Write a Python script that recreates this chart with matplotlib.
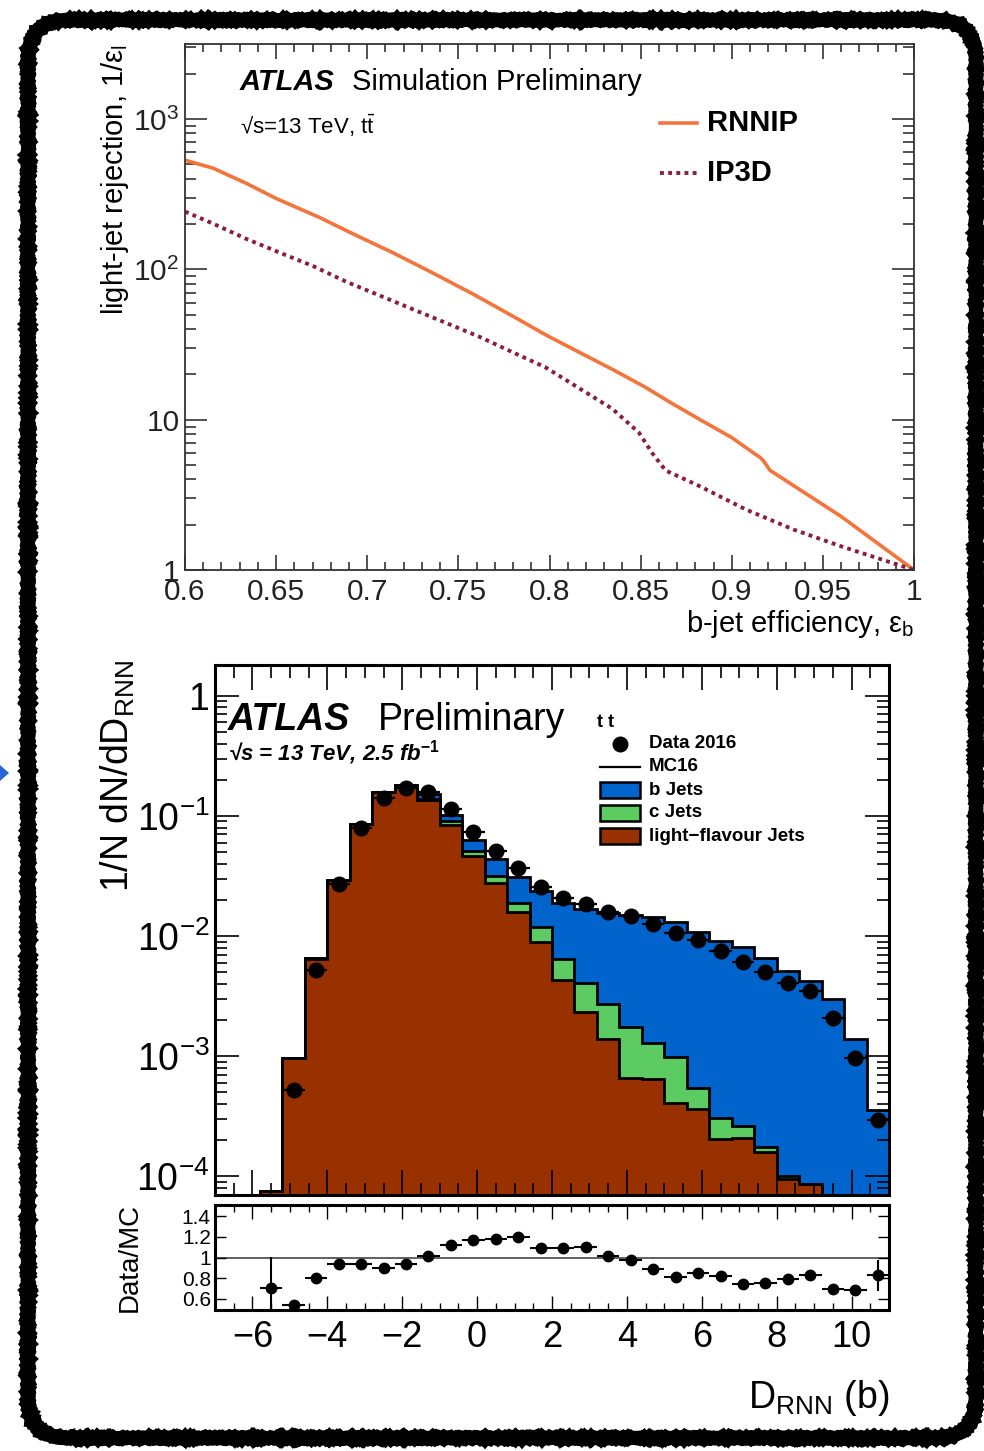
import numpy as np
import matplotlib
matplotlib.use("Agg")
import matplotlib.pyplot as plt
from matplotlib.ticker import MultipleLocator, FuncFormatter, NullFormatter, LogLocator, FixedLocator
from matplotlib.patches import FancyBboxPatch, Rectangle, Polygon
from matplotlib.lines import Line2D
from matplotlib.transforms import IdentityTransform

plt.rcParams['font.family'] = ['Liberation Sans', 'DejaVu Sans']
plt.rcParams['mathtext.fontset'] = 'custom'
plt.rcParams['mathtext.rm'] = 'Liberation Sans'
plt.rcParams['mathtext.it'] = 'Liberation Sans:italic'
plt.rcParams['mathtext.bf'] = 'Liberation Sans:bold'

# ---------------- top panel data: ROC curves ----------------
rnnip_eff = [0.600, 0.6155, 0.6338, 0.6502, 0.6739, 0.6922, 0.714, 0.736, 0.7578,
             0.7797, 0.798, 0.8162, 0.8345, 0.8527, 0.8673, 0.882, 0.900, 0.9158,
             0.9175, 0.921, 0.9598, 1.0]
rnnip_rej = [532, 470, 372, 295, 221, 172, 129, 94.5, 68.7,
             48.9, 36.6, 28.1, 21.6, 16.4, 12.8, 10.1, 7.6, 5.57,
             5.3, 4.6, 2.28, 1.0]
ip3d_eff = [0.600, 0.6155, 0.6338, 0.652, 0.6703, 0.6885, 0.7067, 0.725, 0.7432,
            0.7615, 0.7797, 0.798, 0.8162, 0.8345, 0.8491, 0.8564, 0.8637, 0.882,
            0.9079, 0.9338, 0.9598, 1.0]
ip3d_rej = [242, 201, 159, 129, 105, 82.6, 67, 54.2, 44,
            35.6, 28.1, 22.2, 16.2, 11.8, 8.19, 5.98, 4.59, 3.63,
            2.52, 1.86, 1.44, 1.0]

# ---------------- bottom panel data: D_RNN distribution ----------------
bin_edges = np.linspace(-7.0, 11.0, 31)
light_jets = [0, 0, 7.5e-5, 9.6e-4, 6.5e-3, 0.029, 0.085, 0.157, 0.178, 0.135,
              0.084, 0.0465, 0.0275, 0.016, 0.009, 0.00432, 0.00232, 0.00139, 0.00066, 0.00065,
              0.00041, 0.000367, 0.000205, 0.00021, 0.000161, 0.000096, 0.000086, 0, 0, 0]
c_jets = [0, 0, 0, 0, 1e-5, 5e-5, 0.0002, 0.0006, 0.0012, 0.003,
          0.007, 0.0042, 0.0043, 0.0029, 0.0028, 0.00217, 0.00178, 0.00133, 0.00108, 0.00064,
          0.00057, 0.000178, 0.000102, 0.000054, 0.000016, 0.000004, 0, 0, 0, 0]
b_jets = [0, 0, 0, 0, 1e-5, 5e-5, 0.0002, 0.0006, 0.0015, 0.014,
          0.011, 0.0123, 0.0117, 0.0121, 0.0118, 0.0125, 0.0126, 0.0127, 0.0133, 0.01304,
          0.01212, 0.01035, 0.00883, 0.00788, 0.00643, 0.00498, 0.0041, 0.00301, 0.0014, 0.00036]
data_2016 = [np.nan, np.nan, 5.4e-5, 5.24e-4, 5.22e-3, 0.0272, 0.080, 0.142, 0.17, 0.157,
             0.114, 0.0737, 0.0513, 0.037, 0.0258, 0.0207, 0.0183, 0.0157, 0.0147, 0.0127,
             0.0106, 0.0093, 0.0075, 0.00607, 0.00498, 0.00404, 0.00347, 0.00208, 9.65e-4, 2.96e-4]
ratio = [np.nan, np.nan, 0.704, 0.541, 0.80, 0.935, 0.94, 0.90, 0.94, 1.013,
         1.12, 1.17, 1.18, 1.195, 1.094, 1.088, 1.098, 1.016, 0.98, 0.886,
         0.811, 0.854, 0.821, 0.746, 0.753, 0.795, 0.828, 0.691, 0.688, 0.828]
ratio_err = [0, 0, 0.30, 0.03, 0.015, 0.01, 0.01, 0.01, 0.01, 0.01,
             0.01, 0.01, 0.01, 0.01, 0.01, 0.01, 0.01, 0.01, 0.01, 0.01,
             0.01, 0.01, 0.01, 0.01, 0.01, 0.012, 0.015, 0.02, 0.03, 0.15]

ORANGE = '#f5743c'
MAROON = '#8a1f3a'
BLUE = '#0064cc'
GREEN = '#5ccb62'
BROWN = '#993000'

fig = plt.figure(figsize=(9.84, 14.51), dpi=100)
W, H = 984.0, 1451.0

# ================= top panel =================
ax1 = fig.add_axes([185 / W, 1 - 570 / H, 729 / W, 526 / H])
ax1.plot(rnnip_eff, rnnip_rej, color=ORANGE, lw=2.6, solid_capstyle='butt')
ax1.plot(ip3d_eff, ip3d_rej, color=MAROON, lw=2.8, linestyle=(0, (1.0, 1.1)))
ax1.set_yscale('log')
ax1.set_xlim(0.6, 1.0)
ax1.set_ylim(1, 3150)
ax1.xaxis.set_major_locator(MultipleLocator(0.05))
ax1.xaxis.set_minor_locator(MultipleLocator(0.01))
ax1.xaxis.set_major_formatter(FuncFormatter(lambda v, p: ('%g' % round(v, 2))))
ax1.yaxis.set_major_locator(FixedLocator([1, 10, 100, 1000]))
ax1.yaxis.set_minor_locator(LogLocator(base=10, subs=np.arange(2, 10)))
ax1.yaxis.set_minor_formatter(NullFormatter())


def top_fmt(v, p):
    if abs(v - 1) < 1e-9:
        return '1'
    if abs(v - 10) < 1e-9:
        return '10'
    return r'$\mathdefault{10^{%d}}$' % int(round(np.log10(v)))


ax1.yaxis.set_major_formatter(FuncFormatter(top_fmt))
ax1.tick_params(which='both', direction='in', top=True, right=True, labelsize=21.5, colors='#222222')
ax1.tick_params(axis='x', which='major', length=11, width=1.1, pad=6)
ax1.tick_params(axis='x', which='minor', length=5.5, width=1.1)
ax1.tick_params(axis='y', which='major', length=16, width=1.1, pad=4)
ax1.tick_params(axis='y', which='minor', length=8, width=1.1)
for s in ax1.spines.values():
    s.set_linewidth(1.3)
    s.set_color('#333333')

ax1.text(0.0754, 0.9125, 'ATLAS', transform=ax1.transAxes, fontsize=21,
         fontweight='bold', fontstyle='italic', va='baseline', ha='left')
ax1.text(0.229, 0.9125, 'Simulation Preliminary', transform=ax1.transAxes, fontsize=21,
         va='baseline', ha='left')
ax1.text(0.0754, 0.829, '√s=13 TeV, ' + r'$\mathrm{t\bar{t}}$', transform=ax1.transAxes,
         fontsize=16, va='baseline', ha='left')
ax1.add_line(Line2D([0.652, 0.702], [0.849, 0.849], transform=ax1.transAxes, color=ORANGE, lw=2.6))
ax1.add_line(Line2D([0.652, 0.702], [0.754, 0.754], transform=ax1.transAxes, color=MAROON, lw=2.8,
                    linestyle=(0, (1.0, 1.1))))
ax1.text(0.716, 0.849, 'RNNIP', transform=ax1.transAxes, fontsize=21, fontweight='bold',
         va='center', ha='left')
ax1.text(0.716, 0.754, 'IP3D', transform=ax1.transAxes, fontsize=21, fontweight='bold',
         va='center', ha='left')
ax1.text(-0.096, 1.0, r'light-jet rejection, 1/$\mathdefault{ε_{l}}$', transform=ax1.transAxes,
         rotation=90, fontsize=21, ha='center', va='top')
ax1.text(1.0, -0.102, r'b-jet efficiency, $\mathdefault{ε_{b}}$', transform=ax1.transAxes,
         fontsize=21, ha='right', va='center')

# ================= bottom main panel =================
ax2 = fig.add_axes([215 / W, 1 - 1195 / H, 674 / W, 530 / H])
ax3 = fig.add_axes([215 / W, 1 - 1310 / H, 674 / W, 105 / H], sharex=ax2)

edges = np.asarray(bin_edges)
centers = 0.5 * (edges[:-1] + edges[1:])
floor = 1e-7
cum1 = np.maximum(np.asarray(light_jets, float), floor)
cum2 = np.maximum(np.asarray(light_jets, float) + np.asarray(c_jets, float), floor)
cum3 = np.maximum(cum2 + np.asarray(b_jets, float), floor)

ax2.stairs(cum3, edges, baseline=cum2, fill=True, facecolor=BLUE, edgecolor='none', lw=0)
ax2.stairs(cum2, edges, baseline=cum1, fill=True, facecolor=GREEN, edgecolor='none', lw=0)
ax2.stairs(cum1, edges, baseline=floor, fill=True, facecolor=BROWN, edgecolor='none', lw=0)
for cum in (cum1, cum2, cum3):
    ax2.stairs(cum, edges, baseline=floor, fill=False, color='black', lw=2.0)

ax2.errorbar(centers, data_2016, xerr=0.3, fmt='o', color='black', ms=10.5, lw=1.6,
             capsize=0, zorder=5)

ax2.set_yscale('log')
ax2.set_xlim(-7, 11)
ax2.set_ylim(7e-5, 1.8)
ax2.xaxis.set_major_locator(MultipleLocator(2))
ax2.xaxis.set_minor_locator(MultipleLocator(0.5))
ax2.yaxis.set_major_locator(FixedLocator([1e-4, 1e-3, 1e-2, 1e-1, 1]))
ax2.yaxis.set_minor_locator(LogLocator(base=10, subs=np.arange(2, 10)))
ax2.yaxis.set_minor_formatter(NullFormatter())


def bot_fmt(v, p):
    if abs(v - 1) < 1e-9:
        return '1'
    return r'$\mathdefault{10^{%d}}$' % int(round(np.log10(v)))


ax2.yaxis.set_major_formatter(FuncFormatter(bot_fmt))
ax2.tick_params(which='both', direction='in', top=True, right=True, labelsize=27,
                labelbottom=False)
ax2.tick_params(axis='x', which='major', length=18, width=1.2)
ax2.tick_params(axis='x', which='minor', length=9, width=1.2)
ax2.tick_params(axis='y', which='major', length=17, width=1.2, pad=4)
ax2.tick_params(axis='y', which='minor', length=8.5, width=1.2)
for s in ax2.spines.values():
    s.set_linewidth(2.2)

ax2.text(0.019, 0.877, 'ATLAS', transform=ax2.transAxes, fontsize=27, fontweight='bold',
         fontstyle='italic', va='baseline', ha='left')
ax2.text(0.242, 0.877, 'Preliminary', transform=ax2.transAxes, fontsize=27,
         va='baseline', ha='left')
ax2.text(0.019, 0.821, '√s = 13 TeV, 2.5 fb' + r'$^{\mathbf{-1}}$', transform=ax2.transAxes,
         fontsize=16, fontweight='bold', fontstyle='italic', va='baseline', ha='left')
ax2.text(0.567, 0.883, 't t', transform=ax2.transAxes, fontsize=13, fontweight='bold',
         va='baseline', ha='left')

# legend (drawn by hand, ROOT style)
rows = [0.851, 0.808, 0.764, 0.721, 0.677]
labels = ['Data 2016', 'MC16', 'b Jets', 'c Jets', 'light−flavour Jets']
ax2.plot([0.601], [rows[0]], 'o', color='black', ms=10.5, transform=ax2.transAxes, clip_on=False)
ax2.add_line(Line2D([0.571, 0.631], [rows[1], rows[1]], transform=ax2.transAxes, color='black', lw=1.6))
for yy, fc in zip(rows[2:], [BLUE, GREEN, BROWN]):
    ax2.add_patch(Rectangle((0.571, yy - 0.015), 0.060, 0.030, transform=ax2.transAxes,
                            facecolor=fc, edgecolor='black', lw=1.8))
for yy, lab in zip(rows, labels):
    ax2.text(0.644, yy, lab, transform=ax2.transAxes, fontsize=13.5, fontweight='bold',
             va='center', ha='left')

ax2.text(-0.144, 1.01, r'1/N dN/d$\mathdefault{D_{RNN}}$', transform=ax2.transAxes,
         rotation=90, fontsize=27, ha='center', va='top')

# ================= ratio panel =================
ax3.axhline(1.0, color='#444444', lw=1.2, zorder=1)
ax3.errorbar(centers, ratio, xerr=0.3, yerr=ratio_err, fmt='o', color='black', ms=7.5,
             lw=1.5, capsize=0, zorder=5)
ax3.set_ylim(0.49, 1.51)
ax3.set_xlim(-7, 11)
ax3.yaxis.set_major_locator(FixedLocator([0.6, 0.8, 1.0, 1.2, 1.4]))
ax3.yaxis.set_major_formatter(FuncFormatter(lambda v, p: '%g' % round(v, 1)))
ax3.xaxis.set_major_locator(MultipleLocator(2))
ax3.xaxis.set_minor_locator(MultipleLocator(0.5))
ax3.tick_params(which='both', direction='in', top=True, right=True)
ax3.tick_params(axis='x', which='major', length=10, width=1.0, labelsize=26, pad=7)
ax3.tick_params(axis='x', which='minor', length=5, width=1.0)
ax3.tick_params(axis='y', which='major', length=8, width=1.0, labelsize=15, pad=3)
for s in ax3.spines.values():
    s.set_linewidth(2.2)
ax3.text(-0.126, 0.5, 'Data/MC', transform=ax3.transAxes, rotation=90, fontsize=20,
         ha='center', va='center')
fig.text(889 / W, 1 - 1398 / H, r'$\mathdefault{D_{RNN}}$ (b)', fontsize=27, ha='right',
         va='center')

# ================= decorative sketchy frame =================
for lw, sc, ln in ((10.0, 0.6, 3.0), (5.0, 1.0, 2.0)):
    border = FancyBboxPatch((28, 13), 948, 1418, boxstyle='round,pad=0,rounding_size=40',
                            transform=IdentityTransform(), fill=False, edgecolor='black', lw=lw)
    border.set_sketch_params(scale=sc, length=ln, randomness=2)
    fig.add_artist(border)
arrow = Polygon([(0, H - 765), (9, H - 773), (0, H - 781)], closed=True,
                transform=IdentityTransform(), facecolor='#2a62d8', edgecolor='none')
fig.add_artist(arrow)

fig.savefig('out.png', dpi=100, facecolor='white')
